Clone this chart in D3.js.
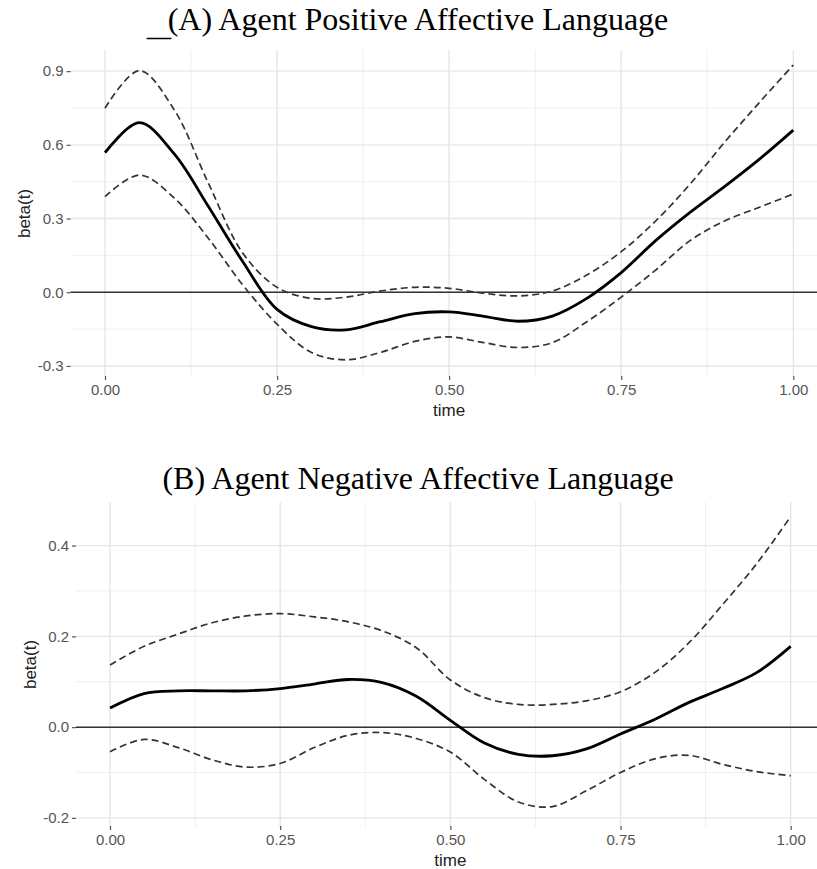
<!DOCTYPE html>
<html>
<head>
<meta charset="utf-8">
<script src="https://cdn.jsdelivr.net/npm/d3@7"></script>
<style>
  body { margin: 0; background: #fff; }
  svg { display: block; }
</style>
</head>
<body>
<script>
'use strict';

// shared time grid (read every 0.05)
var times = [0, 0.05, 0.10, 0.15, 0.20, 0.25, 0.30, 0.35, 0.40, 0.45, 0.50,
             0.55, 0.60, 0.65, 0.70, 0.75, 0.80, 0.85, 0.90, 0.95, 1.00];

// (A) positive affective language
var posFit   = [0.568, 0.690, 0.565, 0.350, 0.125, -0.070, -0.140, -0.153, -0.120, -0.087, -0.080,
                -0.098, -0.118, -0.097, -0.025, 0.080, 0.210, 0.325, 0.430, 0.540, 0.660];
var posUpper = [0.749, 0.902, 0.745, 0.445, 0.160, 0.020, -0.025, -0.020, 0.005, 0.020, 0.016,
                -0.004, -0.015, 0.005, 0.070, 0.165, 0.290, 0.440, 0.610, 0.770, 0.925];
var posLower = [0.389, 0.477, 0.385, 0.220, 0.030, -0.130, -0.245, -0.275, -0.245, -0.200, -0.182,
                -0.205, -0.225, -0.205, -0.120, -0.020, 0.090, 0.210, 0.290, 0.345, 0.400];

// (B) negative affective language
var negFit   = [0.042, 0.074, 0.080, 0.080, 0.080, 0.085, 0.095, 0.105, 0.098, 0.068, 0.015,
                -0.035, -0.060, -0.063, -0.048, -0.015, 0.017, 0.054, 0.085, 0.120, 0.178];
var negUpper = [0.137, 0.178, 0.205, 0.230, 0.245, 0.250, 0.243, 0.232, 0.212, 0.175, 0.104,
                0.065, 0.050, 0.050, 0.058, 0.078, 0.120, 0.185, 0.270, 0.360, 0.464];
var negLower = [-0.054, -0.027, -0.045, -0.072, -0.088, -0.080, -0.045, -0.018, -0.012, -0.025, -0.055,
                -0.115, -0.165, -0.175, -0.140, -0.100, -0.070, -0.062, -0.082, -0.098, -0.107];

var xTicks = [0, 0.25, 0.5, 0.75, 1];
var xMinor = [0.125, 0.375, 0.625, 0.875];
var posTicks = [-0.3, 0, 0.3, 0.6, 0.9];
var posMinor = [-0.15, 0.15, 0.45, 0.75];
var negTicks = [-0.2, 0, 0.2, 0.4];
var negMinor = [-0.1, 0.1, 0.3];

var svg = d3.select("body").append("svg")
  .attr("width", 817)
  .attr("height", 869);

function panel(opt) {
  var x = d3.scaleLinear().domain([-0.05, 1.05]).range([opt.left, opt.right]);
  var y = d3.scaleLinear().domain(opt.yDomain).range([opt.bottom, opt.top]);
  var g = svg.append("g");

  // title
  g.append("text")
    .attr("x", 418).attr("y", opt.titleY)
    .attr("text-anchor", "middle")
    .attr("font-family", "'Liberation Serif', 'Times New Roman', serif")
    .attr("font-size", "32px")
    .attr("fill", "#000")
    .text(opt.title);

  // grid
  var grid = g.append("g");
  grid.selectAll(".ymin").data(opt.yMinor).enter().append("line")
    .attr("x1", opt.left).attr("x2", opt.right)
    .attr("y1", y).attr("y2", y)
    .attr("stroke", "#efefef").attr("stroke-width", 1);
  grid.selectAll(".xmin").data(xMinor).enter().append("line")
    .attr("x1", x).attr("x2", x)
    .attr("y1", opt.top).attr("y2", opt.bottom)
    .attr("stroke", "#efefef").attr("stroke-width", 1);
  grid.selectAll(".ymaj").data(opt.yTicks).enter().append("line")
    .attr("x1", opt.left).attr("x2", opt.right)
    .attr("y1", y).attr("y2", y)
    .attr("stroke", "#e6e6e6").attr("stroke-width", 1.4);
  grid.selectAll(".xmaj").data(xTicks).enter().append("line")
    .attr("x1", x).attr("x2", x)
    .attr("y1", opt.top).attr("y2", opt.bottom)
    .attr("stroke", "#e6e6e6").attr("stroke-width", 1.4);

  // zero line
  g.append("line")
    .attr("x1", opt.left).attr("x2", opt.right)
    .attr("y1", y(0)).attr("y2", y(0))
    .attr("stroke", "#333").attr("stroke-width", 1.5);

  var line = d3.line()
    .x(function(d){ return x(d[0]); })
    .y(function(d){ return y(d[1]); })
    .curve(d3.curveCatmullRom.alpha(0.5));

  [opt.upper, opt.lower].forEach(function(s){
    g.append("path")
      .datum(d3.zip(times, s))
      .attr("d", line)
      .attr("fill", "none")
      .attr("stroke", "#333")
      .attr("stroke-width", 1.7)
      .attr("stroke-dasharray", "7,4");
  });
  g.append("path")
    .datum(d3.zip(times, opt.fit))
    .attr("d", line)
    .attr("fill", "none")
    .attr("stroke", "#000")
    .attr("stroke-width", 2.8);

  // axes
  var yAxis = d3.axisLeft(y).tickValues(opt.yTicks).tickSize(4).tickPadding(3)
    .tickFormat(function(d){ return d.toFixed(1); });
  var ya = g.append("g").attr("transform", "translate(" + opt.left + ",0)").call(yAxis);
  var xAxis = d3.axisBottom(x).tickValues(xTicks).tickSize(4).tickPadding(4)
    .tickFormat(function(d){ return d.toFixed(2); });
  var xa = g.append("g").attr("transform", "translate(0," + (opt.bottom - 1) + ")").call(xAxis);
  [ya, xa].forEach(function(a){
    a.select(".domain").remove();
    a.selectAll(".tick line").attr("stroke", "#555").attr("stroke-width", 1.2);
    a.selectAll(".tick text")
      .attr("fill", "#555")
      .attr("font-family", "'Liberation Sans', Arial, sans-serif")
      .attr("font-size", "15px");
  });

  g.append("text")
    .attr("x", x(0.5)).attr("y", opt.bottom + 39)
    .attr("text-anchor", "middle")
    .attr("font-family", "'Liberation Sans', Arial, sans-serif")
    .attr("font-size", "17px")
    .attr("fill", "#222")
    .text("time");

  g.append("text")
    .attr("transform", "translate(" + opt.yTitleX + "," + ((opt.top + opt.bottom) / 2) + ") rotate(-90)")
    .attr("text-anchor", "middle")
    .attr("font-family", "'Liberation Sans', Arial, sans-serif")
    .attr("font-size", "17px")
    .attr("fill", "#222")
    .text("beta(t)");
}

panel({
  title: "(A) Agent Positive Affective Language", titleY: 30,
  left: 70.6, right: 827.7, top: 50, bottom: 377,
  yDomain: [-0.345, 0.986], yTicks: posTicks, yMinor: posMinor, yTitleX: 30,
  fit: posFit, upper: posUpper, lower: posLower
});

panel({
  title: "(B) Agent Negative Affective Language", titleY: 489,
  left: 76, right: 824.7, top: 502, bottom: 827,
  yDomain: [-0.22, 0.496], yTicks: negTicks, yMinor: negMinor, yTitleX: 36,
  fit: negFit, upper: negUpper, lower: negLower
});

// stray underscore left of title A
svg.append("text")
  .attr("x", 147).attr("y", 36)
  .attr("font-family", "'Liberation Serif', 'Times New Roman', serif")
  .attr("font-size", "30px")
  .attr("textLength", 24)
  .attr("lengthAdjust", "spacingAndGlyphs")
  .attr("fill", "#000")
  .text("_");
</script>
</body>
</html>
